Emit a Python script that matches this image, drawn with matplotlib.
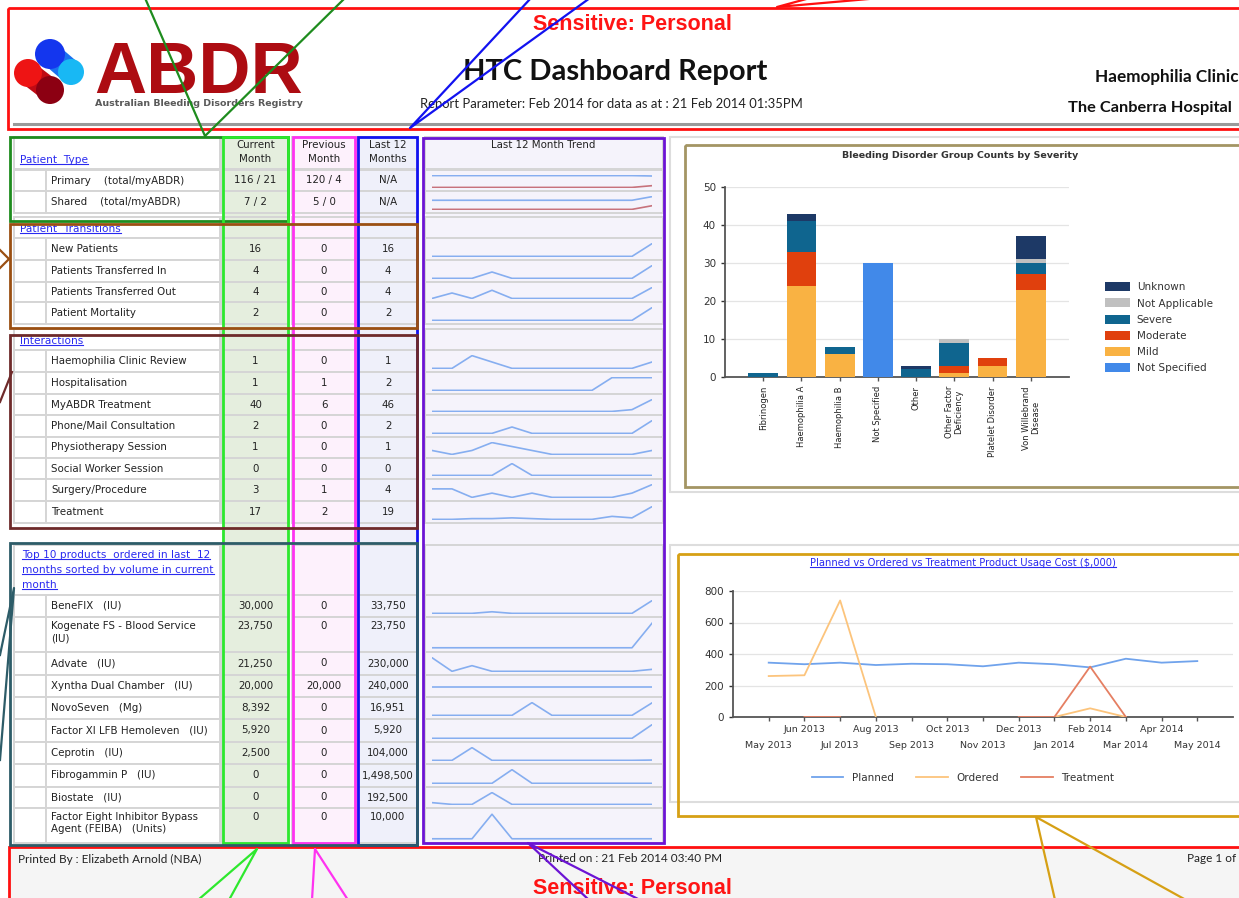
import matplotlib
matplotlib.use("Agg")
import matplotlib.pyplot as plt
from matplotlib.patches import Rectangle, Circle
import numpy as np

nan = np.nan

# ---------------- table data ----------------
type_labels = ["Primary    (total/myABDR)", "Shared    (total/myABDR)"]
type_current = ["116 / 21", "7 / 2"]
type_previous = ["120 / 4", "5 / 0"]
type_last12 = ["N/A", "N/A"]
type_trend_total = [
    [120, 120, 120, 120, 120, 120, 120, 120, 120, 120, 120, 116],
    [5, 5, 5, 5, 5, 5, 5, 5, 5, 5, 5, 7],
]
type_trend_myabdr = [
    [4, 4, 4, 4, 4, 4, 4, 4, 4, 4, 4, 21],
    [0, 0, 0, 0, 0, 0, 0, 0, 0, 0, 0, 2],
]

transition_labels = ["New Patients", "Patients Transferred In",
                     "Patients Transferred Out", "Patient Mortality"]
transition_current = ["16", "4", "4", "2"]
transition_previous = ["0", "0", "0", "0"]
transition_last12 = ["16", "4", "4", "2"]
transition_trend = [
    [0, 0, 0, 0, 0, 0, 0, 0, 0, 0, 0, 16],
    [0, 0, 0, 2, 0, 0, 0, 0, 0, 0, 0, 4],
    [0, 2, 0, 3, 0, 0, 0, 0, 0, 0, 0, 4],
    [0, 0, 0, 0, 0, 0, 0, 0, 0, 0, 0, 2],
]

interaction_labels = ["Haemophilia Clinic Review", "Hospitalisation", "MyABDR Treatment",
                      "Phone/Mail Consultation", "Physiotherapy Session",
                      "Social Worker Session", "Surgery/Procedure", "Treatment"]
interaction_current = ["1", "1", "40", "2", "1", "0", "3", "17"]
interaction_previous = ["0", "1", "6", "0", "0", "0", "1", "2"]
interaction_last12 = ["1", "2", "46", "2", "1", "0", "4", "19"]
interaction_trend = [
    [0, 0, 2, 1, 0, 0, 0, 0, 0, 0, 0, 1],
    [0, 0, 0, 0, 0, 0, 0, 0, 0, 1, 1, 1],
    [0, 0, 0, 0, 0, 0, 0, 0, 0, 0, 6, 40],
    [0, 0, 0, 0, 1, 0, 0, 0, 0, 0, 0, 2],
    [1, 0, 1, 3, 2, 1, 0, 0, 0, 0, 0, 1],
    [0, 0, 0, 0, 1, 0, 0, 0, 0, 0, 0, 0],
    [2, 2, 0, 1, 0, 1, 0, 0, 0, 0, 1, 3],
    [0, 0, 1, 1, 2, 1, 0, 0, 0, 4, 2, 17],
]

product_header = ["Top 10 products  ordered in last  12",
                  "months sorted by volume in current", "month"]
product_labels = ["BeneFIX   (IU)", "Kogenate FS - Blood Service\n(IU)", "Advate   (IU)",
                  "Xyntha Dual Chamber   (IU)", "NovoSeven   (Mg)",
                  "Factor XI LFB Hemoleven   (IU)", "Ceprotin   (IU)",
                  "Fibrogammin P   (IU)", "Biostate   (IU)",
                  "Factor Eight Inhibitor Bypass\nAgent (FEIBA)   (Units)"]
product_current = ["30,000", "23,750", "21,250", "20,000", "8,392", "5,920", "2,500", "0", "0", "0"]
product_previous = ["0", "0", "0", "20,000", "0", "0", "0", "0", "0", "0"]
product_last12 = ["33,750", "23,750", "230,000", "240,000", "16,951", "5,920",
                  "104,000", "1,498,500", "192,500", "10,000"]
product_trend = [
    [0, 0, 0, 3750, 0, 0, 0, 0, 0, 0, 0, 30000],
    [0, 0, 0, 0, 0, 0, 0, 0, 0, 0, 0, 23750],
    [147500, 0, 61250, 0, 0, 0, 0, 0, 0, 0, 0, 21250],
    [20000, 20000, 20000, 20000, 20000, 20000, 20000, 20000, 20000, 20000, 20000, 20000],
    [0, 0, 0, 0, 0, 8559, 0, 0, 0, 0, 0, 8392],
    [0, 0, 0, 0, 0, 0, 0, 0, 0, 0, 0, 5920],
    [0, 0, 101500, 0, 0, 0, 0, 0, 0, 0, 0, 2500],
    [0, 0, 0, 0, 1498500, 0, 0, 0, 0, 0, 0, 0],
    [25000, 0, 0, 167500, 0, 0, 0, 0, 0, 0, 0, 0],
    [0, 0, 0, 10000, 0, 0, 0, 0, 0, 0, 0, 0],
]

# ---------------- bar chart data ----------------
disorder_groups = ["Fibrinogen", "Haemophilia A", "Haemophilia B", "Not Specified", "Other",
                   "Other Factor\nDeficiency", "Platelet Disorder", "Von Willebrand\nDisease"]
severity_names = ["Not Specified", "Mild", "Moderate", "Severe", "Not Applicable", "Unknown"]
sev_not_specified = [0, 0, 0, 30, 0, 0, 0, 0]
sev_mild = [0, 24, 6, 0, 0, 1, 3, 23]
sev_moderate = [0, 9, 0, 0, 0, 2, 2, 4]
sev_severe = [1, 8, 2, 0, 2, 6, 0, 3]
sev_not_applicable = [0, 0, 0, 0, 0, 1, 0, 1]
sev_unknown = [0, 2, 0, 0, 1, 0, 0, 6]
severity_colors = ["#4189e9", "#f9b243", "#e0400d", "#0f658f", "#c0c0c0", "#1d3966"]

# ---------------- line chart data ----------------
usage_months = ["May 2013", "Jun 2013", "Jul 2013", "Aug 2013", "Sep 2013", "Oct 2013",
                "Nov 2013", "Dec 2013", "Jan 2014", "Feb 2014", "Mar 2014", "Apr 2014", "May 2014"]
cost_planned = [345, 335, 345, 330, 338, 335, 322, 345, 335, 315, 370, 345, 355]
cost_ordered = [260, 265, 740, 0, nan, nan, nan, nan, 0, 55, 0, nan, nan]
cost_treatment = [nan, 0, 0, nan, nan, nan, nan, 0, 0, 320, 0, nan, nan]

# ---------------- figure ----------------
W, H = 1239, 898
fig = plt.figure(figsize=(W / 100, H / 100), dpi=100)
fig.patch.set_facecolor("white")
ax = fig.add_axes([0, 0, 1, 1])
ax.set_xlim(0, W)
ax.set_ylim(H, 0)
ax.axis("off")

TXT = "#222222"
GRID = "#d5d5d5"
LINK = "#2a2af0"
FS = 7.4
links = []


def fig_rect(x0, y0, x1, y1):
    return [x0 / W, 1 - y1 / H, (x1 - x0) / W, (y1 - y0) / H]


def box(x0, y0, x1, y1, fc="none", ec="none", lw=1.0, z=1):
    ax.add_patch(Rectangle((x0, y0), x1 - x0, y1 - y0, facecolor=fc,
                           edgecolor=ec, linewidth=lw, zorder=z))


def link(x, y, s, fs=7.6, **kw):
    t = ax.text(x, y, s, color=LINK, fontsize=fs, va="center", zorder=5, **kw)
    links.append(t)
    return t


# column x ranges
C_IND = (14, 46)
C_LAB = (46, 220)
C_CUR = (222, 289)
C_PRV = (292, 356)
C_L12 = (358, 418)
C_TRD = (425, 663)
COL_BG = {C_CUR: "#e5eede", C_PRV: "#fdf1fc", C_L12: "#eff0fa", C_TRD: "#f5f3fb"}

for c, col in COL_BG.items():
    box(c[0], 137, c[1], 843, fc=col)


def cell(c, y0, y1, fc):
    box(c[0], y0, c[1], y1, fc=fc, ec=GRID, lw=1.4, z=2)


def sparkline(y0, y1, series, colors):
    sax = fig.add_axes(fig_rect(432, y0 + 5, 652, y1 - 3))
    sax.set_facecolor("none")
    for s, colr in zip(series, colors):
        sax.plot(range(len(s)), s, color=colr, lw=1.2)
    sax.set_xlim(0, 11)
    sax.axis("off")


def section_header(y0, y1):
    cell((14, 220), y0, y1, "white")
    for c in (C_CUR, C_PRV, C_L12, C_TRD):
        cell(c, y0, y1, COL_BG[c])


def data_row(y0, y1, label, cur, prv, l12, series, colors, top=False):
    cell(C_IND, y0, y1, "white")
    cell(C_LAB, y0, y1, "white")
    for c in (C_CUR, C_PRV, C_L12, C_TRD):
        cell(c, y0, y1, COL_BG[c])
    if top:
        ty, va = y0 + 4, "top"
    else:
        ty, va = (y0 + y1) / 2, "center"
    ax.text(51, ty, label, fontsize=FS, color=TXT, va=va, zorder=5, linespacing=1.3)
    for c, v in ((C_CUR, cur), (C_PRV, prv), (C_L12, l12)):
        ax.text((c[0] + c[1]) / 2, ty, v, fontsize=FS, color=TXT, ha="center", va=va, zorder=5)
    sparkline(y0, y1, series, colors)


BLUE_SP = "#86aef0"
RED_SP = "#c7727c"

# header row
cell((14, 220), 137, 169, "white")
link(20, 160, "Patient  Type")
for c, s in ((C_CUR, "Current\nMonth"), (C_PRV, "Previous\nMonth"), (C_L12, "Last 12\nMonths")):
    cell(c, 137, 169, COL_BG[c])
    ax.text((c[0] + c[1]) / 2, 152, s, fontsize=FS, color=TXT, ha="center", va="center",
            linespacing=1.4, zorder=5)
cell(C_TRD, 137, 169, COL_BG[C_TRD])
ax.text(543, 145, "Last 12 Month Trend", fontsize=FS, color=TXT, ha="center", va="center", zorder=5)

# Patient type
type_rows = [(170, 191), (191, 213)]
for i, (y0, y1) in enumerate(type_rows):
    data_row(y0, y1, type_labels[i], type_current[i], type_previous[i], type_last12[i],
             [type_trend_total[i], type_trend_myabdr[i]], [BLUE_SP, RED_SP])

# Patient transitions
section_header(217, 238)
link(20, 229, "Patient  Transitions")
trans_rows = [(238, 260), (260, 282), (282, 302), (302, 324)]
for i, (y0, y1) in enumerate(trans_rows):
    data_row(y0, y1, transition_labels[i], transition_current[i], transition_previous[i],
             transition_last12[i], [transition_trend[i]], [BLUE_SP])

# Interactions
section_header(329, 350)
link(20, 341, "Interactions")
inter_rows = [(350, 372), (372, 394), (394, 415), (415, 437), (437, 458), (458, 479),
              (479, 501), (501, 523)]
for i, (y0, y1) in enumerate(inter_rows):
    data_row(y0, y1, interaction_labels[i], interaction_current[i], interaction_previous[i],
             interaction_last12[i], [interaction_trend[i]], [BLUE_SP])

# Top 10 products
section_header(545, 595)
for k, s in enumerate(product_header):
    link(22, 555 + 15 * k, s)
prod_rows = [(595, 617), (617, 652), (652, 675), (675, 697), (697, 719), (719, 742),
             (742, 764), (764, 787), (787, 808), (808, 843)]
for i, (y0, y1) in enumerate(prod_rows):
    data_row(y0, y1, product_labels[i], product_current[i], product_previous[i],
             product_last12[i], [product_trend[i]], [BLUE_SP], top="\n" in product_labels[i])

# ---------------- header ----------------
box(8, 8, 1250, 129, ec="#ff1010", lw=2.0, z=6)
ax.plot([14, 1239], [124, 124], color="#9a9a9a", lw=2.2, zorder=5)
ax.text(632, 24, "Sensitive: Personal", color="#ff1414", fontsize=15.5, fontweight="bold",
        family="Liberation Sans", ha="center", va="center", zorder=7)
ax.text(615, 72, "HTC Dashboard Report", fontsize=21, fontweight="bold", family="Lato",
        ha="center", va="center", color="#111111", zorder=7)
ax.text(420, 104, "Report Parameter: Feb 2014 for data as at : 21 Feb 2014 01:35PM",
        fontsize=9.4, family="Lato", va="center", color="#222222", zorder=7)
ax.text(1095, 77, "Haemophilia Clinic", fontsize=12.3, fontweight="bold", family="Lato",
        va="center", color="#111111", zorder=7)
ax.text(1068, 108, "The Canberra Hospital", fontsize=11.8, fontweight="bold", family="Lato",
        va="center", color="#111111", zorder=7)

# logo
ax.plot([50, 71], [54, 72], color="#1a70f0", lw=17, solid_capstyle="butt", zorder=3)
ax.plot([28, 50], [73, 90], color="#c00a14", lw=17, solid_capstyle="butt", zorder=3)
for (cx, cy, r, colr) in ((50, 54, 15, "#1436ee"), (71, 72, 13, "#18b8f4"),
                          (28, 73, 14, "#ee1414"), (50, 90, 14, "#8c0012")):
    ax.add_patch(Circle((cx, cy), r, facecolor=colr, edgecolor="none", zorder=4))
ax.text(94, 93, "ABDR", fontsize=52, fontweight="bold", family="Liberation Sans",
        color="#ad0c12", va="baseline", zorder=4)
ax.text(95, 103, "Australian Bleeding Disorders Registry", fontsize=6.8, fontweight="bold",
        color="#5a5a5a", va="center", zorder=4)

# ---------------- footer ----------------
box(9, 847, 1250, 905, fc="#f5f5f5", ec="#ff1010", lw=2.0, z=6)
ax.text(18, 859, "Printed By : Elizabeth Arnold (NBA)", fontsize=8.5, family="Lato",
        va="center", color="#222222", zorder=7)
ax.text(538, 859, "Printed on : 21 Feb 2014 03:40 PM", fontsize=8.5, family="Lato",
        va="center", color="#222222", zorder=7)
ax.text(1187, 859, "Page 1 of", fontsize=8.5, family="Lato", va="center",
        color="#222222", zorder=7)
ax.text(632, 888, "Sensitive: Personal", color="#ff1414", fontsize=15.5, fontweight="bold",
        family="Liberation Sans", ha="center", va="center", zorder=7)

# chart panels
box(670, 137, 1250, 492, fc="white", ec="#dddddd", lw=1.5, z=1)
box(670, 545, 1250, 802, fc="white", ec="#dddddd", lw=1.5, z=1)

# ---------------- callout boxes ----------------
callouts = [
    ((10, 137, 288, 221), "#1e8c1e"),
    ((223, 137, 288, 843), "#2ee82e"),
    ((293, 137, 355, 843), "#ff33f0"),
    ((358, 137, 417, 845), "#1212f0"),
    ((423, 138, 664, 843), "#6c14d4"),
    ((10, 224, 417, 328), "#9a4f12"),
    ((10, 335, 417, 528), "#6e2a2a"),
    ((10, 543, 417, 845), "#2d5c68"),
    ((685, 145, 1250, 487), "#a39564"),
    ((678, 554, 1250, 816), "#d6a015"),
]
for (x0, y0, x1, y1), colr in callouts:
    box(x0, y0, x1, y1, ec=colr, lw=2.0, z=8)

wedges = [
    ("#1e8c1e", (145, -2), (345, -2), (205, 136)),
    ("#1212f0", (531, -2), (590, -2), (410, 128)),
    ("#ff1010", (810, -2), (880, -2), (777, 7)),
    ("#2ee82e", (198, 900), (229, 900), (257, 849)),
    ("#ff33f0", (312, 900), (348, 900), (315, 849)),
    ("#6c14d4", (589, 900), (640, 900), (528, 843)),
    ("#d6a015", (1055, 900), (1186, 900), (1036, 817)),
    ("#2d5c68", (0, 655), (0, 760), (14, 588)),
]
for colr, a, b, tip in wedges:
    ax.plot([a[0], tip[0], b[0]], [a[1], tip[1], b[1]], color=colr, lw=1.6, zorder=9)
ax.plot([0, 9, 0], [250, 259, 268], color="#9a4f12", lw=1.6, zorder=9)
ax.plot([0, 12], [402, 372], color="#6e2a2a", lw=1.6, zorder=9)

# ---------------- bar chart ----------------
bax = fig.add_axes(fig_rect(725, 187, 1069, 377))
x = np.arange(len(disorder_groups))
bottom = np.zeros(len(x))
bars = []
for vals, colr, name in zip(
        [sev_not_specified, sev_mild, sev_moderate, sev_severe, sev_not_applicable, sev_unknown],
        severity_colors, severity_names):
    b = bax.bar(x, vals, 0.78, bottom=bottom, color=colr, label=name, zorder=3)
    bars.append(b)
    bottom += np.array(vals)
bax.set_xlim(-1, 8)
bax.set_ylim(0, 50)
bax.set_yticks([0, 10, 20, 30, 40, 50])
bax.set_xticks(x)
bax.set_xticklabels(disorder_groups, rotation=90, fontsize=6, color="#222222",
                    linespacing=1.0)
bax.tick_params(axis="y", labelsize=7.5, colors="#333333", length=3, width=1)
bax.tick_params(axis="x", length=3, width=1, colors="#555555", labelcolor="#222222")
bax.yaxis.grid(True, color="#e4e4e4", lw=0.9)
bax.set_axisbelow(True)
for s in ("top", "right"):
    bax.spines[s].set_visible(False)
for s in ("left", "bottom"):
    bax.spines[s].set_color("#555555")
    bax.spines[s].set_linewidth(1.3)
bax.set_facecolor("none")
ax.text(960, 156, "Bleeding Disorder Group Counts by Severity", fontsize=6.8,
        fontweight="bold", color="#333333", ha="center", va="center", zorder=5)
fig.legend(bars[::-1], severity_names[::-1], loc="upper left",
           bbox_to_anchor=(1096 / W, 1 - 273 / H), frameon=False, fontsize=7.5,
           handlelength=2.4, handleheight=0.95, labelspacing=0.58, handletextpad=0.6,
           labelcolor="#333333")

# ---------------- line chart ----------------
lax = fig.add_axes(fig_rect(733, 591, 1233, 717))
m = np.arange(len(usage_months))
lp, = lax.plot(m, cost_planned, color="#70a3ec", lw=1.3, zorder=3)
lo, = lax.plot(m, cost_ordered, color="#fcc47c", lw=1.3, zorder=3)
lt, = lax.plot(m, cost_treatment, color="#e57f62", lw=1.3, zorder=3)
lax.set_xlim(-1, 13)
lax.set_ylim(0, 800)
lax.set_yticks([0, 200, 400, 600, 800])
# staggered month labels: odd months on the upper row, even months on the lower row
lax.set_xticks(m[1::2])
lax.set_xticklabels(usage_months[1::2], fontsize=6.8, color="#333333")
lax.set_xticks(m[0::2], minor=True)
lax.set_xticklabels(usage_months[0::2], minor=True, fontsize=6.8, color="#333333")
lax.tick_params(axis="y", labelsize=7.5, colors="#333333", length=3, width=1)
lax.tick_params(axis="x", which="major", length=3, width=1, colors="#555555",
                labelcolor="#333333", pad=3)
lax.tick_params(axis="x", which="minor", length=3, width=1, colors="#555555",
                labelcolor="#333333", pad=14.5)
lax.yaxis.grid(True, color="#e4e4e4", lw=0.9)
lax.set_axisbelow(True)
for s in ("top", "right"):
    lax.spines[s].set_visible(False)
for s in ("left", "bottom"):
    lax.spines[s].set_color("#555555")
    lax.spines[s].set_linewidth(1.3)
lax.set_facecolor("none")
link(963, 563, r"Planned vs Ordered vs Treatment Product Usage Cost (\$,000)", fs=7.2,
     ha="center")
fig.legend([lp, lo, lt], ["Planned", "Ordered", "Treatment"], loc="center",
           bbox_to_anchor=(963 / W, 1 - 778 / H), ncol=3, frameon=False, fontsize=7.5,
           handlelength=3.0, columnspacing=2.2, labelcolor="#333333")

# ---------------- underline the link texts ----------------
fig.canvas.draw()
renderer = fig.canvas.get_renderer()
inv = ax.transData.inverted()
for t in links:
    bb = t.get_window_extent(renderer)
    (x0, y0), (x1, y1) = inv.transform([[bb.x0, bb.y0], [bb.x1, bb.y1]])
    ax.plot([x0, x1], [y0 - 1.5, y0 - 1.5], color=LINK, lw=0.8, zorder=5)

fig.savefig("out.png", dpi=100)
